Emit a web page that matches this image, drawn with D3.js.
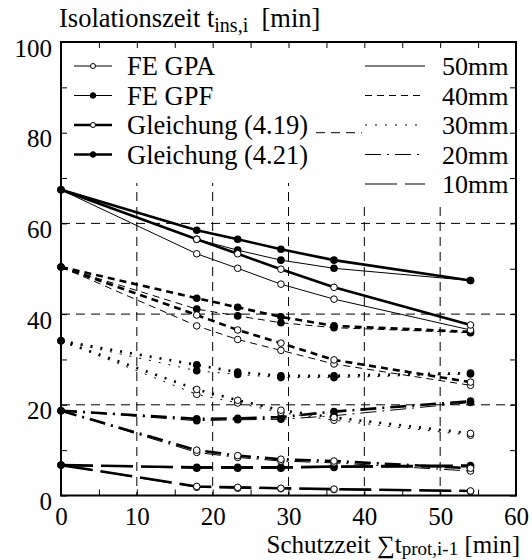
<!DOCTYPE html>
<html>
<head>
<meta charset="utf-8">
<script src="https://cdn.jsdelivr.net/npm/d3@7"></script>
<style>
  body { margin: 0; background: #fff; }
  svg { display: block; }
</style>
</head>
<body>
<svg id="chart" width="532" height="560"></svg>
<script>
// Protection time sum (x) at which each layer was evaluated
const protTime = [0, 17.9, 23.3, 29, 36, 54];

// Insulation thicknesses (one curve family each)
const thicknesses = ["50mm", "40mm", "30mm", "20mm", "10mm"];

// Insulation time per method, one row per thickness (same order as above)
const feGPA = [
  [67.4, 53.3, 50.1, 46.6, 43.3, 36.5],
  [50.4, 37.4, 34.4, 32.0, 29.0, 24.3],
  [34.1, 22.3, 20.4, 18.3, 16.6, 13.3],
  [18.7, 9.5, 8.4, 7.6, 7.2, 5.4],
  [6.7, 1.8, 1.6, 1.5, 1.3, 0.9]
];
const feGPF = [
  [67.4, 56.5, 54.1, 51.9, 50.1, 47.4],
  [50.4, 41.1, 39.6, 38.1, 37.0, 35.9],
  [34.1, 27.5, 26.7, 26.0, 26.0, 26.8],
  [18.7, 16.5, 16.7, 16.8, 17.6, 20.5],
  [6.7, 6.0, 6.0, 6.0, 6.2, 6.3]
];
const eq419 = [
  [67.4, 56.5, 53.3, 49.9, 45.9, 37.6],
  [50.4, 39.8, 36.5, 33.6, 29.9, 25.0],
  [34.1, 23.4, 21.0, 18.8, 17.2, 13.7],
  [18.7, 10.0, 8.8, 8.0, 7.6, 6.0],
  [6.7, 2.0, 1.8, 1.6, 1.4, 1.0]
];
const eq421 = [
  [67.4, 58.5, 56.5, 54.3, 51.9, 47.4],
  [50.4, 43.5, 41.5, 39.4, 37.4, 36.1],
  [34.1, 28.8, 27.2, 26.4, 26.4, 27.0],
  [18.7, 16.9, 17.0, 17.3, 18.5, 20.8],
  [6.7, 6.2, 6.2, 6.2, 6.4, 6.6]
];

// Legend entries for the methods
const methodNames = ["FE GPA", "FE GPF", "Gleichung (4.19)", "Gleichung (4.21)"];

// Axis ticks
const xTicks = [0, 10, 20, 30, 40, 50, 60];
const yTicks = [0, 20, 40, 60, 80, 100];

// ---- styling ----
const FONT = "'Liberation Serif', 'Times New Roman', Tinos, 'DejaVu Serif', serif";
const methods = [
  { name: methodNames[0], data: feGPA, thick: false, filled: false },
  { name: methodNames[1], data: feGPF, thick: false, filled: true },
  { name: methodNames[2], data: eq419, thick: true, filled: false },
  { name: methodNames[3], data: eq421, thick: true, filled: true }
];
const dashes = { "50mm": null, "40mm": "7,5", "30mm": "2,8", "20mm": "16,6,2,6", "10mm": "32,8" };
const thinW = 1, thickW = 2.6;

const svg = d3.select("#chart");
const L = 61, R = 516, T = 42, B = 495.5;
const x = d3.scaleLinear().domain([0, 60]).range([L, R]);
const y = d3.scaleLinear().domain([0, 100]).range([B, T]);

// ---- grid ----
const grid = svg.append("g").attr("stroke", "#000").attr("stroke-width", 1).attr("stroke-dasharray", "9,6");
[20, 40, 60, 80].forEach(v => grid.append("line").attr("x1", L).attr("x2", R).attr("y1", y(v)).attr("y2", y(v)));
[10, 20, 30, 40, 50].forEach(v => grid.append("line").attr("x1", x(v)).attr("x2", x(v)).attr("y1", T).attr("y2", B));

// ---- legend backgrounds ----
svg.append("rect").attr("x", L + 1).attr("y", T + 1).attr("width", 253).attr("height", 140).attr("fill", "#fff");
svg.append("rect").attr("x", 362).attr("y", T + 1).attr("width", R - 363).attr("height", 160).attr("fill", "#fff");

// ---- curves ----
const line = d3.line().x(d => x(d.x)).y(d => y(d.y));
const curves = svg.append("g").attr("fill", "none").attr("stroke", "#000");
thicknesses.forEach((th, t) => {
  methods.forEach(m => {
    const pts = protTime.map((px, i) => ({ x: px, y: m.data[t][i] }));
    curves.append("path")
      .attr("d", line(pts))
      .attr("stroke-width", m.thick ? thickW : thinW)
      .attr("stroke-dasharray", dashes[th]);
  });
});

// ---- markers: filled first, open circles on top (start point stays filled) ----
const markers = svg.append("g");
thicknesses.forEach((th, t) => {
  methods.filter(m => m.filled).forEach(m => {
    protTime.forEach((px, i) => {
      markers.append("circle").attr("cx", x(px)).attr("cy", y(m.data[t][i])).attr("r", 3.8).attr("fill", "#000");
    });
  });
});
thicknesses.forEach((th, t) => {
  methods.filter(m => !m.filled).forEach(m => {
    protTime.forEach((px, i) => {
      if (px === 0) return;
      markers.append("circle").attr("cx", x(px)).attr("cy", y(m.data[t][i])).attr("r", 3.3)
        .attr("fill", "#fff").attr("stroke", "#000").attr("stroke-width", 1);
    });
  });
});

// ---- legends ----
const lg = svg.append("g");
const rowY = i => 75 + i * 29.5;
methods.forEach((m, i) => {
  const cy = rowY(i) - 9;
  lg.append("line").attr("x1", 74).attr("x2", 112).attr("y1", cy).attr("y2", cy)
    .attr("stroke", "#000").attr("stroke-width", m.thick ? thickW : thinW);
  lg.append("circle").attr("cx", 93).attr("cy", cy).attr("r", m.filled ? 2.8 : 2.5)
    .attr("fill", m.filled ? "#000" : "#fff").attr("stroke", "#000").attr("stroke-width", 1);
  lg.append("text").attr("x", 127).attr("y", rowY(i)).attr("font-size", 26.5).text(m.name);
});
thicknesses.forEach((th, i) => {
  const cy = rowY(i) - 9;
  lg.append("line").attr("x1", 365).attr("x2", 425).attr("y1", cy).attr("y2", cy)
    .attr("stroke", "#000").attr("stroke-width", 1).attr("stroke-dasharray", dashes[th]);
  lg.append("text").attr("x", 442).attr("y", rowY(i)).attr("font-size", 26).text(th);
});

// ---- axes (ticks inward on all four sides) ----
const fmtX = d => xTicks.includes(d) ? d : "";
const fmtY = d => yTicks.includes(d) ? d : "";
const axB = svg.append("g").attr("transform", `translate(0,${B})`)
  .call(d3.axisBottom(x).tickValues(d3.range(0, 61, 5)).tickSize(-6).tickSizeOuter(0).tickFormat(fmtX));
axB.selectAll("text").attr("y", 29.5).attr("dy", null);
const axT = svg.append("g").attr("transform", `translate(0,${T})`)
  .call(d3.axisTop(x).tickValues(d3.range(0, 61, 5)).tickSize(-6).tickSizeOuter(0).tickFormat(""));
const axL = svg.append("g").attr("transform", `translate(${L},0)`)
  .call(d3.axisLeft(y).tickValues(d3.range(0, 101, 10)).tickSize(-6).tickSizeOuter(0).tickFormat(fmtY));
axL.selectAll("text").attr("x", -9).attr("dy", 14);
const axR = svg.append("g").attr("transform", `translate(${R},0)`)
  .call(d3.axisRight(y).tickValues(d3.range(0, 101, 10)).tickSize(-6).tickSizeOuter(0).tickFormat(""));
[axB, axT, axL, axR].forEach(a => {
  a.select(".domain").remove();
  a.selectAll(".tick line").attr("stroke-width", 1);
});
svg.append("rect").attr("x", L).attr("y", T).attr("width", R - L).attr("height", B - T)
  .attr("fill", "none").attr("stroke", "#000").attr("stroke-width", 2);

// ---- axis titles ----
const yt = svg.append("text").attr("x", 59).attr("y", 27).attr("font-size", 26.5);
yt.append("tspan").text("Isolationszeit t");
yt.append("tspan").attr("font-size", 20).attr("dy", 5).text("ins,i");
yt.append("tspan").attr("dy", -5).text("\u00a0\u00a0[min]");

const xt = svg.append("text").attr("x", 520).attr("y", 553).attr("text-anchor", "end").attr("font-size", 25);
xt.append("tspan").text("Schutzzeit \u2211t");
xt.append("tspan").attr("font-size", 19).attr("dy", 2).text("prot,i-1");
xt.append("tspan").attr("dy", -2).text(" [min]");

// one serif face for every label
svg.selectAll("text").attr("font-family", FONT).style("font-family", FONT).attr("fill", "#000");
svg.selectAll(".tick text").attr("font-size", 25);
</script>
</body>
</html>
